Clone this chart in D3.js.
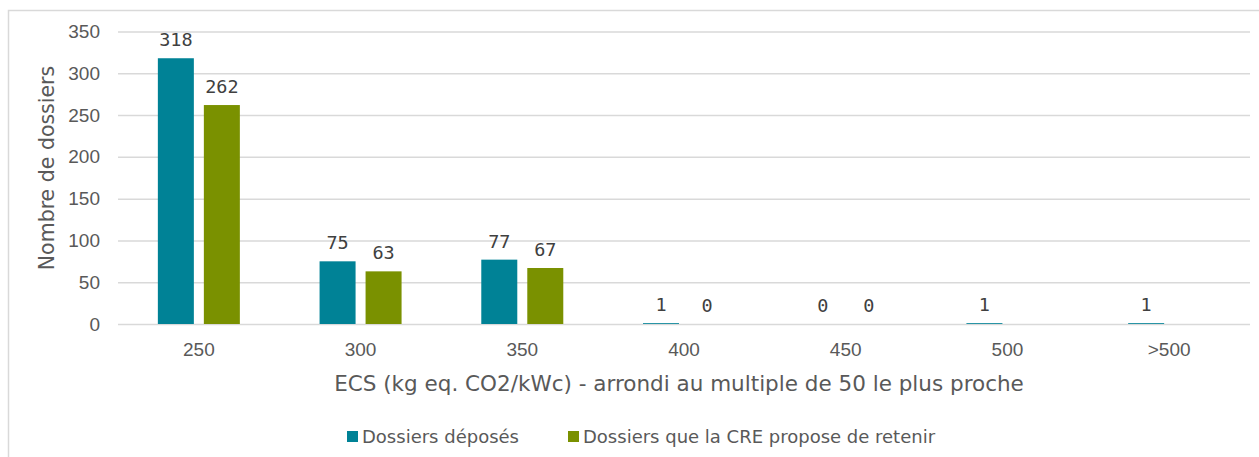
<!DOCTYPE html>
<html>
<head>
<meta charset="utf-8">
<script src="https://cdn.jsdelivr.net/npm/d3@7"></script>
<style>
  body { margin: 0; background: #fff; }
  svg { font-family: "DejaVu Sans", sans-serif; }
</style>
</head>
<body>
<svg width="1259" height="457"></svg>
<script>
var categories = ["250", "300", "350", "400", "450", "500", ">500"];
var deposes = [318, 75, 77, 1, 0, 1, 1];
var retenus = [262, 63, 67, 0, 0, null, null];
var seriesNames = ["Dossiers déposés", "Dossiers que la CRE propose de retenir"];
var colors = ["#008296", "#7a9100"];
var yTicks = [0, 50, 100, 150, 200, 250, 300, 350];

var svg = d3.select("svg"),
  width = +svg.attr("width"),
  height = +svg.attr("height");

// chart frame
svg.append("rect")
  .attr("x", 8.5).attr("y", 10.5)
  .attr("width", 1260).attr("height", 460)
  .attr("fill", "none").attr("stroke", "#d9d9d9").attr("stroke-width", 1.5);

var mLeft = 118, mRight = 1250, mTop = 31.5, mBottom = 324;

var x = d3.scaleBand().domain(categories).range([mLeft, mRight]);
var y = d3.scaleLinear().domain([0, 350]).range([mBottom, mTop]);

var grid = svg.append("g")
  .attr("transform", "translate(" + mLeft + ",0)")
  .call(d3.axisLeft(y).tickValues(yTicks).tickSize(-(mRight - mLeft)).tickPadding(18));
grid.select(".domain").remove();
grid.selectAll("line").attr("stroke", "#d9d9d9").attr("stroke-width", 1.5);
grid.selectAll("text").attr("fill", "#595959").style("font-size", "19px");

var barW = 36, gap = 10;
var series = [deposes, retenus];

series.forEach(function(vals, s) {
  var off = s === 0 ? -(gap / 2 + barW) : gap / 2;
  var rows = categories.map(function(c, i) { return { c: c, v: vals[i] }; })
    .filter(function(d) { return d.v !== null; });

  svg.append("g").selectAll("rect")
    .data(rows)
    .enter().append("rect")
    .attr("x", function(d) { return x(d.c) + x.bandwidth() / 2 + off; })
    .attr("y", function(d) { return y(d.v); })
    .attr("width", barW)
    .attr("height", function(d) { return mBottom - y(d.v); })
    .attr("fill", colors[s]);

  svg.append("g").selectAll("text")
    .data(rows)
    .enter().append("text")
    .attr("x", function(d) { return x(d.c) + x.bandwidth() / 2 + off + barW / 2; })
    .attr("y", function(d) { return y(d.v) - 12; })
    .attr("text-anchor", "middle")
    .attr("fill", "#404040")
    .style("font-family", "'DejaVu Sans Mono', monospace")
    .style("font-size", "18.5px")
    .text(function(d) { return d.v; });
});

var xa = svg.append("g")
  .attr("transform", "translate(0," + mBottom + ")")
  .call(d3.axisBottom(x).tickSize(0).tickPadding(19));
xa.select(".domain").remove();
xa.selectAll("text").attr("fill", "#595959").style("font-size", "19px");

svg.append("text")
  .attr("x", 679).attr("y", 391)
  .attr("text-anchor", "middle")
  .attr("fill", "#595959")
  .style("font-size", "21.5px")
  .text("ECS (kg eq. CO2/kWc) - arrondi au multiple de 50 le plus proche");

svg.append("text")
  .attr("transform", "translate(54,168) rotate(-90)")
  .attr("text-anchor", "middle")
  .attr("fill", "#595959")
  .style("font-size", "20.5px")
  .text("Nombre de dossiers");

// legend
var legendX = [347, 568];
var legend = svg.append("g").selectAll("g")
  .data(seriesNames)
  .enter().append("g")
  .attr("transform", function(d, i) { return "translate(" + legendX[i] + ",431)"; });
legend.append("rect").attr("width", 11).attr("height", 11)
  .attr("fill", function(d, i) { return colors[i]; });
legend.append("text").attr("x", 15).attr("y", 12)
  .attr("fill", "#595959")
  .style("font-size", "18px")
  .text(function(d) { return d; });
</script>
</body>
</html>
